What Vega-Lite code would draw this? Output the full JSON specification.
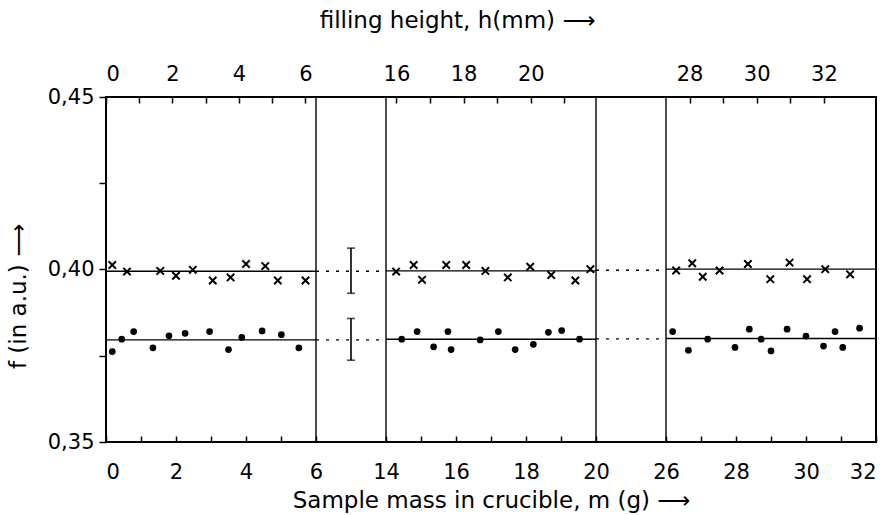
{
  "$schema": "https://vega.github.io/schema/vega-lite/v6.json",
  "width": 770,
  "height": 345,
  "autosize": "none",
  "padding": {"left": 106, "top": 97, "right": 17, "bottom": 73},
  "background": "white",
  "datasets": {
    "vlines": [
      {"m": 6, "f": 0.35, "f2": 0.45},
      {"m": 14, "f": 0.35, "f2": 0.45},
      {"m": 20, "f": 0.35, "f2": 0.45},
      {"m": 26, "f": 0.35, "f2": 0.45}
    ],
    "meanPanels": [
      {"m": 0, "m2": 6, "f": 0.3995},
      {"m": 14, "m2": 20, "f": 0.3996},
      {"m": 26, "m2": 32, "f": 0.4001},
      {"m": 0, "m2": 6, "f": 0.3796},
      {"m": 14, "m2": 20, "f": 0.3798},
      {"m": 26, "m2": 32, "f": 0.38}
    ],
    "meanGaps": [
      {"m": 6, "m2": 14, "f": 0.3995},
      {"m": 20, "m2": 26, "f": 0.3998},
      {"m": 6, "m2": 14, "f": 0.3796},
      {"m": 20, "m2": 26, "f": 0.3799}
    ],
    "errors": [
      {"m": 10, "f": 0.3931, "f2": 0.4062},
      {"m": 10, "f": 0.3737, "f2": 0.3858}
    ],
    "crosses": [
      {"m": 0.18, "f": 0.4013}, {"m": 0.6, "f": 0.3994}, {"m": 1.55, "f": 0.3996}, {"m": 2.0, "f": 0.3982},
      {"m": 2.48, "f": 0.3999}, {"m": 3.05, "f": 0.3968}, {"m": 3.56, "f": 0.3977}, {"m": 4.0, "f": 0.4016},
      {"m": 4.55, "f": 0.401}, {"m": 4.91, "f": 0.3968}, {"m": 5.7, "f": 0.3968},
      {"m": 14.29, "f": 0.3994}, {"m": 14.79, "f": 0.4013}, {"m": 15.03, "f": 0.397}, {"m": 15.72, "f": 0.4013},
      {"m": 16.29, "f": 0.4013}, {"m": 16.84, "f": 0.3996}, {"m": 17.48, "f": 0.3977}, {"m": 18.12, "f": 0.4008},
      {"m": 18.72, "f": 0.3984}, {"m": 19.41, "f": 0.3968}, {"m": 19.84, "f": 0.4001},
      {"m": 26.29, "f": 0.3997}, {"m": 26.75, "f": 0.4018}, {"m": 27.05, "f": 0.3979}, {"m": 27.53, "f": 0.3997},
      {"m": 28.34, "f": 0.4016}, {"m": 28.98, "f": 0.3972}, {"m": 29.53, "f": 0.402}, {"m": 30.03, "f": 0.3972},
      {"m": 30.55, "f": 0.4001}, {"m": 31.26, "f": 0.3986}
    ],
    "dots": [
      {"m": 0.18, "f": 0.3762}, {"m": 0.45, "f": 0.3798}, {"m": 0.79, "f": 0.382}, {"m": 1.34, "f": 0.3773},
      {"m": 1.8, "f": 0.3808}, {"m": 2.26, "f": 0.3815}, {"m": 2.96, "f": 0.382}, {"m": 3.5, "f": 0.3768},
      {"m": 3.88, "f": 0.3803}, {"m": 4.46, "f": 0.3822}, {"m": 5.01, "f": 0.3811}, {"m": 5.51, "f": 0.3773},
      {"m": 14.45, "f": 0.3798}, {"m": 14.89, "f": 0.382}, {"m": 15.36, "f": 0.3776}, {"m": 15.77, "f": 0.382},
      {"m": 15.86, "f": 0.3768}, {"m": 16.69, "f": 0.3796}, {"m": 17.21, "f": 0.382}, {"m": 17.69, "f": 0.3768},
      {"m": 18.21, "f": 0.3783}, {"m": 18.64, "f": 0.3818}, {"m": 19.02, "f": 0.3823}, {"m": 19.53, "f": 0.3798},
      {"m": 26.19, "f": 0.382}, {"m": 26.64, "f": 0.3766}, {"m": 27.19, "f": 0.3798}, {"m": 27.97, "f": 0.3774},
      {"m": 28.38, "f": 0.3827}, {"m": 28.72, "f": 0.3798}, {"m": 29.0, "f": 0.3764}, {"m": 29.46, "f": 0.3827},
      {"m": 30.0, "f": 0.3807}, {"m": 30.5, "f": 0.3778}, {"m": 30.83, "f": 0.382}, {"m": 31.05, "f": 0.3774},
      {"m": 31.53, "f": 0.383}
    ],
    "hticks": [
      {"h": 0}, {"h": 2}, {"h": 4}, {"h": 6}, {"h": 16}, {"h": 18}, {"h": 20}, {"h": 28}, {"h": 30}, {"h": 32}
    ]
  },
  "layer": [
    {
      "encoding": {
        "x": {
          "field": "m",
          "type": "quantitative",
          "scale": {"domain": [0, 6, 14, 20, 26, 32], "range": [0, 210, 280, 490, 560, 770], "nice": false, "zero": false},
          "axis": {
            "orient": "bottom",
            "title": "Sample mass in crucible, m (g)   ⟶",
            "values": [0, 1, 2, 3, 4, 5, 6, 14, 15, 16, 17, 18, 19, 20, 26, 27, 28, 29, 30, 31, 32],
            "labelExpr": "datum.value % 2 == 0 ? datum.label : ''",
            "format": "d",
            "tickSize": -6,
            "zindex": 2,
            "labelBaseline": "alphabetic",
            "labelPadding": 42,
            "titleX": 385,
            "titleY": 65,
            "titleAlign": "center",
            "titleBaseline": "alphabetic"
          }
        },
        "y": {
          "field": "f",
          "type": "quantitative",
          "scale": {"domain": [0.35, 0.45], "nice": false, "zero": false},
          "axis": {
            "orient": "left",
            "title": "f (in a.u.)   ⟶",
            "values": [0.35, 0.375, 0.4, 0.425, 0.45],
            "labelExpr": "abs(round(datum.value * 40)) % 2 == 0 ? replace(format(datum.value, '.2f'), '.', ',') : ''",
            "tickSize": 7,
            "labelPadding": 5,
            "titleAngle": -90,
            "titleX": -88,
            "titleY": 199,
            "titleAlign": "center",
            "titleBaseline": "middle"
          }
        }
      },
      "layer": [
        {
          "data": {"name": "vlines"},
          "mark": {"type": "rule", "color": "black", "strokeWidth": 1.4},
          "encoding": {"y2": {"field": "f2"}}
        },
        {
          "data": {"name": "meanPanels"},
          "mark": {"type": "rule", "color": "black", "strokeWidth": 1.4},
          "encoding": {"x2": {"field": "m2"}}
        },
        {
          "data": {"name": "meanGaps"},
          "mark": {"type": "rule", "color": "black", "strokeWidth": 1.4, "strokeDash": [3, 7]},
          "encoding": {"x2": {"field": "m2"}}
        },
        {
          "data": {"name": "errors"},
          "mark": {"type": "rule", "color": "black", "strokeWidth": 1.6},
          "encoding": {"y2": {"field": "f2"}}
        },
        {
          "data": {"name": "errors"},
          "mark": {"type": "tick", "color": "black", "orient": "horizontal", "size": 8, "thickness": 1.6},
          "encoding": {}
        },
        {
          "data": {"name": "errors"},
          "mark": {"type": "tick", "color": "black", "orient": "horizontal", "size": 8, "thickness": 1.6},
          "encoding": {"y": {"field": "f2", "type": "quantitative"}}
        },
        {
          "data": {"name": "crosses"},
          "mark": {"type": "point", "shape": "M-1,-1L1,1M-1,1L1,-1", "filled": false, "stroke": "black", "strokeWidth": 2, "size": 55, "opacity": 1}
        },
        {
          "data": {"name": "dots"},
          "mark": {"type": "point", "shape": "circle", "filled": true, "color": "black", "size": 45, "opacity": 1}
        }
      ]
    },
    {
      "data": {"name": "hticks"},
      "mark": {"type": "rule", "opacity": 0},
      "encoding": {
        "x": {
          "field": "h",
          "type": "quantitative",
          "scale": {"domain": [0, 6.32, 15.69, 21.94, 27.3, 33.55], "range": [0, 210, 280, 490, 560, 770], "nice": false, "zero": false},
          "axis": {
            "orient": "top",
            "title": "filling  height, h(mm)    ⟶",
            "values": [0, 1, 2, 3, 4, 5, 6, 16, 17, 18, 19, 20, 21, 28, 29, 30, 31, 32],
            "labelExpr": "datum.value % 2 == 0 ? datum.label : ''",
            "format": "d",
            "tickSize": -6,
            "zindex": 2,
            "labelBaseline": "alphabetic",
            "labelPadding": 23,
            "titleX": 351,
            "titleY": -70,
            "titleAlign": "center",
            "titleBaseline": "alphabetic"
          }
        }
      }
    }
  ],
  "resolve": {"scale": {"x": "independent"}, "axis": {"x": "independent"}},
  "config": {
    "view": {"stroke": "black", "strokeWidth": 2},
    "axis": {
      "domain": false,
      "grid": false,
      "labelFont": "DejaVu Sans",
      "titleFont": "DejaVu Sans",
      "labelFontSize": 21,
      "titleFontSize": 23,
      "titleFontWeight": "normal",
      "labelColor": "black",
      "titleColor": "black",
      "tickColor": "black",
      "tickWidth": 1.5,
      "labelOverlap": false
    }
  }
}
